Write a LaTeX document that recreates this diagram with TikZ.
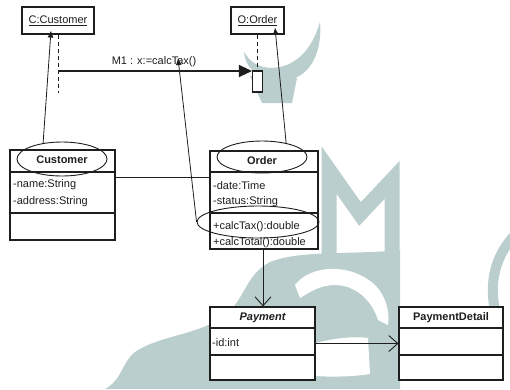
\documentclass[tikz,border=0pt]{standalone}
\usepackage{fontspec}
\setmainfont{Liberation Sans}
\usetikzlibrary{arrows.meta,shapes.geometric}
\definecolor{ink}{HTML}{1E1E1E}
\definecolor{wm}{HTML}{BACECD}
\tikzset{
  every node/.style={font=\fontsize{11}{13}\selectfont, text=ink},
  frame/.style={draw=ink, line width=1.1pt, rectangle, inner sep=0pt, fill=white},
  oval/.style={draw=ink, line width=0.9pt, ellipse, inner sep=0pt},
  member/.style={anchor=west, inner sep=0pt},
  title/.style={font=\fontsize{11}{13}\selectfont\bfseries},
  link/.style={draw=ink, line width=0.8pt},
  rule/.style={draw=ink, line width=1.1pt},
  life/.style={draw=ink, line width=0.9pt, dash pattern=on 4pt off 3pt},
  pointer/.style={link, -{Latex[length=7pt,width=6pt]}},
  call/.style={draw=ink, line width=1.1pt, -{Triangle[length=13pt,width=12pt]}},
  nav/.style={link, -{Straight Barb[length=9pt,width=16pt,line width=0.9pt]}},
}
\begin{document}
\begin{tikzpicture}[x=1pt,y=-1pt]
\useasboundingbox (0,0) rectangle (510,389);

% background emblem
\fill[wm] (244,52) .. controls (246,75) and (270,85) .. (295,78)
  .. controls (315,70) and (322,45) .. (320,22)
  .. controls (312,50) and (295,68) .. (270,68)
  .. controls (258,67) and (250,62) .. (244,52) -- cycle;
\fill[wm] (250,76) -- (297,78) -- (292,103) -- (262,103) -- cycle;
\draw[wm, line width=15pt, line join=miter] (329,262) -- (329,170) -- (360,214) -- (392,180) -- (392,262);
\draw[wm, line width=10pt] (514,236) .. controls (492,260) and (488,290) .. (498,322);
\fill[wm] (105,389) .. controls (122,380) and (122,362) .. (135,352)
  .. controls (160,335) and (200,335) .. (225,315)
  .. controls (245,300) and (245,275) .. (270,262)
  .. controls (300,250) and (350,255) .. (400,250) -- (400,389) -- cycle;
\fill[white] (295,285) .. controls (310,265) and (350,262) .. (375,285)
  .. controls (385,295) and (390,310) .. (388,325)
  -- (378,320) .. controls (372,300) and (355,285) .. (335,285)
  .. controls (320,285) and (310,292) .. (300,298) -- cycle;
\fill[white] (316,343) .. controls (335,338) and (355,336) .. (368,338)
  -- (370,374) .. controls (350,377) and (330,377) .. (316,376) -- cycle;

% sequence objects
\node[frame, minimum width=72pt, minimum height=27pt] (ccust) at (58,20.5) {\underline{C:Customer}};
\node[frame, minimum width=53pt, minimum height=27pt] (oorder) at (257.5,20.5) {\underline{O:Order}};
\node[frame, minimum width=10pt, minimum height=21pt] (act) at (257.5,81.5) {};
\coordinate (cend) at (58,93);
\draw[life] (ccust.south) -- (cend);
\draw[life] (oorder.south) -- (act.north);
\coordinate (mstart) at (58,71);
\draw[call] (mstart) -- (mstart -| act.west);
\node[inner sep=1pt] (msg) at (154,62) {M1 : x:=calcTax()};

% class boxes
\node[frame, minimum width=105pt, minimum height=90pt] (cust) at (62.5,195) {};
\draw[rule] (10,172) -- (115,172) (10,213) -- (115,213);
\node[title] (custname) at (62,160) {Customer};
\node[member] (cust1) at (13,185) {-name:String};
\node[member] (cust2) at (13,202) {-address:String};

\node[frame, minimum width=108pt, minimum height=98pt] (order) at (264,200) {};
\draw[rule] (210,172) -- (318,172) (210,213) -- (318,213);
\node[title] (ordername) at (262,161) {Order};
\node[member] (ord1) at (213,186) {-date:Time};
\node[member] (ord2) at (213,202) {-status:String};
\node[member] (ord3) at (213,227) {+calcTax():double};
\node[member] (ord4) at (213,243) {+calcTotal():double};

\node[frame, minimum width=105pt, minimum height=73pt] (pay) at (262.5,343.5) {};
\draw[rule] (210,328) -- (315,328) (210,355) -- (315,355);
\node[font=\fontsize{11}{13}\selectfont\bfseries\itshape] (payname) at (262.5,318) {Payment};
\node[member] (pay1) at (212,343) {-id:int};

\node[frame, minimum width=104pt, minimum height=73pt] (detail) at (451,343.5) {};
\draw[rule] (399,328) -- (503,328) (399,355) -- (503,355);
\node[title] (detailname) at (451,318) {PaymentDetail};

% highlighting ovals
\node[oval, minimum width=90pt, minimum height=34pt] (custell) at (62,159) {};
\node[oval, minimum width=90pt, minimum height=32pt] (orderell) at (262,157) {};
\node[oval, minimum width=122pt, minimum height=32pt] (methell) at (258,222) {};

% pointers from ovals
\draw[pointer] (custell.140) -- ([xshift=-7pt,yshift=4pt]ccust.south);
\draw[pointer] (orderell.30) -- ([xshift=17.5pt,yshift=7pt]oorder.south);
\draw[pointer] (methell.west) -- ([xshift=24pt,yshift=4pt]msg.center);

% associations
\draw[link] ([yshift=18pt]cust.east) -- ([yshift=18pt]cust.east -| order.west);
\draw[nav] ([xshift=-1pt]order.south) -- ([xshift=-1pt]order.south |- pay.north);
\draw[nav] (pay.east) -- (detail.west);
\end{tikzpicture}
\end{document}
